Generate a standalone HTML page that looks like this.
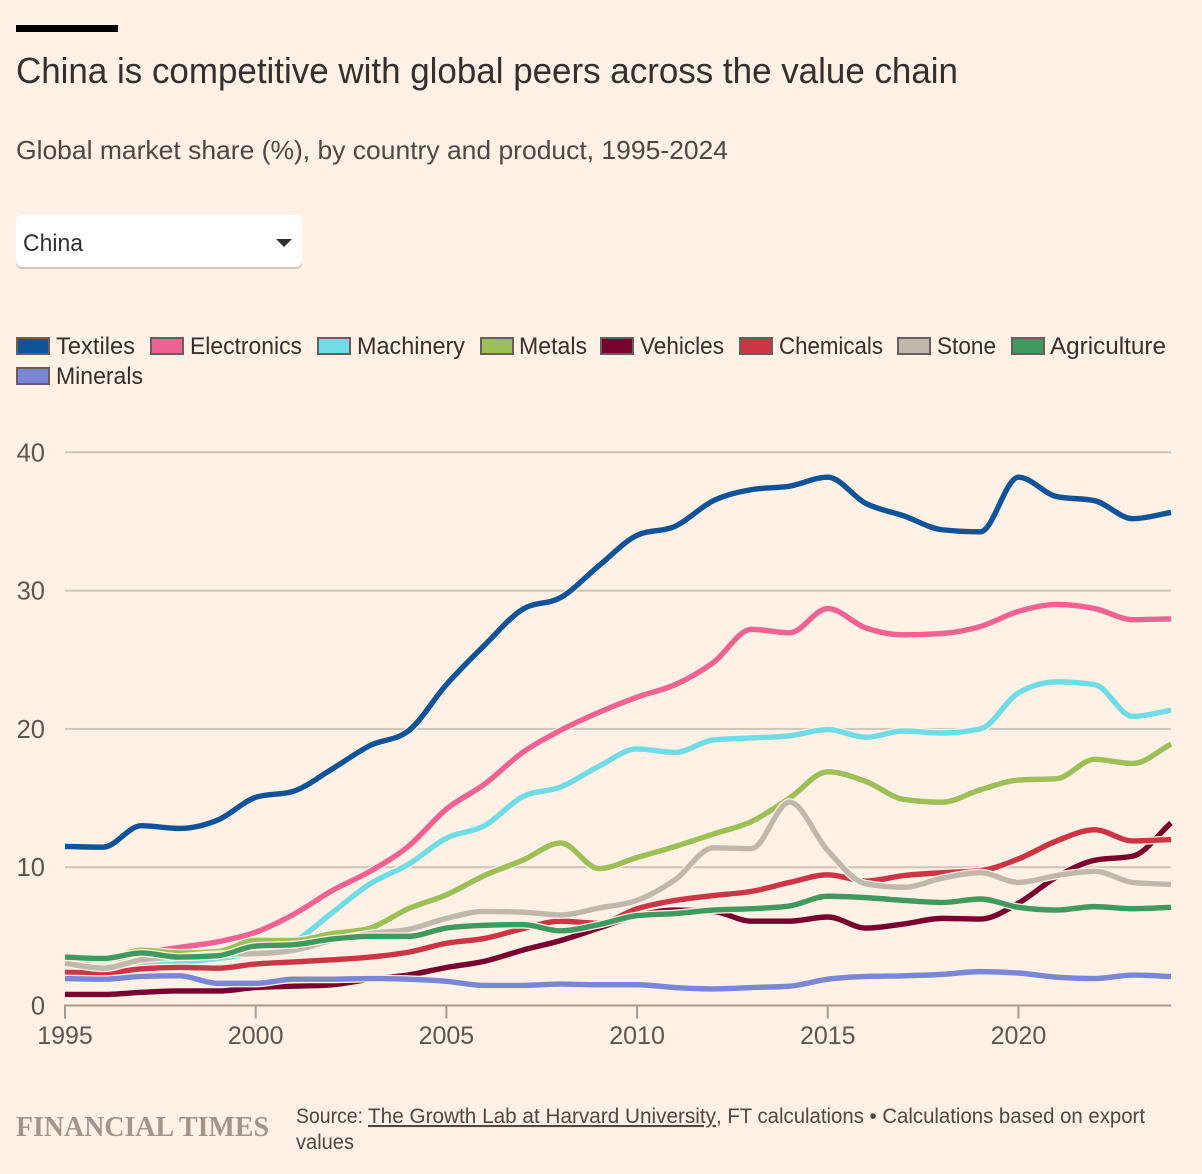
<!DOCTYPE html>
<html lang="en">
<head>
<meta charset="utf-8">
<title>China is competitive with global peers across the value chain</title>
<style>
html,body{margin:0;padding:0;background:#fff1e5;width:1202px;height:1174px;overflow:hidden}
svg{display:block}
text{font-family:"Liberation Sans",sans-serif;fill:#33302e}
</style>
</head>
<body>
<svg id="chart" width="1202" height="1174" viewBox="0 0 1202 1174" xmlns="http://www.w3.org/2000/svg">
  <rect width="1202" height="1174" fill="#fff1e5"/>
  <rect x="16" y="25" width="102" height="7" fill="#000"/>
  <text x="16" y="83" font-size="36" textLength="942" lengthAdjust="spacingAndGlyphs">China is competitive with global peers across the value chain</text>
  <text x="16" y="159" font-size="26" textLength="712" lengthAdjust="spacingAndGlyphs" style="fill:#4d4845">Global market share (%), by country and product, 1995-2024</text>

  <g>
    <rect x="16" y="217" width="286" height="52" rx="6" fill="#cfc6c0"/>
    <rect x="16" y="215" width="286" height="52" rx="6" fill="#ffffff"/>
    <text x="23" y="251" font-size="24" textLength="60" lengthAdjust="spacingAndGlyphs">China</text>
    <path d="M276 239H292L284 247Z" fill="#33302e"/>
  </g>

  <g font-size="24">
    <g>
      <rect x="17" y="338" width="32" height="16" fill="#0f5499" stroke="#66605c" stroke-width="2"/>
      <text x="56" y="354" textLength="79" lengthAdjust="spacingAndGlyphs">Textiles</text>
    </g>
    <g>
      <rect x="151" y="338" width="32" height="16" fill="#ef6292" stroke="#66605c" stroke-width="2"/>
      <text x="190" y="354" textLength="112" lengthAdjust="spacingAndGlyphs">Electronics</text>
    </g>
    <g>
      <rect x="318" y="338" width="32" height="16" fill="#6fdce6" stroke="#66605c" stroke-width="2"/>
      <text x="357" y="354" textLength="108" lengthAdjust="spacingAndGlyphs">Machinery</text>
    </g>
    <g>
      <rect x="481" y="338" width="32" height="16" fill="#9cbf57" stroke="#66605c" stroke-width="2"/>
      <text x="519" y="354" textLength="68" lengthAdjust="spacingAndGlyphs">Metals</text>
    </g>
    <g>
      <rect x="601" y="338" width="32" height="16" fill="#7a0030" stroke="#66605c" stroke-width="2"/>
      <text x="640" y="354" textLength="84" lengthAdjust="spacingAndGlyphs">Vehicles</text>
    </g>
    <g>
      <rect x="740" y="338" width="32" height="16" fill="#cd3444" stroke="#66605c" stroke-width="2"/>
      <text x="779" y="354" textLength="104" lengthAdjust="spacingAndGlyphs">Chemicals</text>
    </g>
    <g>
      <rect x="898" y="338" width="32" height="16" fill="#c0b7ad" stroke="#66605c" stroke-width="2"/>
      <text x="937" y="354" textLength="59" lengthAdjust="spacingAndGlyphs">Stone</text>
    </g>
    <g>
      <rect x="1012" y="338" width="32" height="16" fill="#409a5f" stroke="#66605c" stroke-width="2"/>
      <text x="1050" y="354" textLength="116" lengthAdjust="spacingAndGlyphs">Agriculture</text>
    </g>
    <g>
      <rect x="17" y="368" width="32" height="16" fill="#7a86d6" stroke="#66605c" stroke-width="2"/>
      <text x="56" y="384" textLength="87" lengthAdjust="spacingAndGlyphs">Minerals</text>
    </g>
  </g>

  <g id="grid"></g>
  <g id="yLabels"></g>
  <g id="xAxis"></g>
  <g id="lines"></g>

  <text x="16" y="1136" font-size="28" font-weight="bold" textLength="253" lengthAdjust="spacingAndGlyphs" style="font-family:'Liberation Serif',serif;fill:#a0968e">FINANCIAL TIMES</text>
  <g font-size="21">
    <text x="296" y="1123" textLength="67" lengthAdjust="spacingAndGlyphs" style="fill:#4d4845">Source:</text>
    <text x="368" y="1123" textLength="348" lengthAdjust="spacingAndGlyphs" style="fill:#4d4845;text-decoration:underline">The Growth Lab at Harvard University</text>
    <text x="716" y="1123" textLength="429" lengthAdjust="spacingAndGlyphs" style="fill:#4d4845">, FT calculations • Calculations based on export</text>
    <text x="296" y="1149" textLength="58" lengthAdjust="spacingAndGlyphs" style="fill:#4d4845">values</text>
  </g>
</svg>
<script>
const years = [1995,1996,1997,1998,1999,2000,2001,2002,2003,2004,2005,2006,2007,2008,2009,2010,2011,2012,2013,2014,2015,2016,2017,2018,2019,2020,2021,2022,2023,2024];
const xTicks = [1995,2000,2005,2010,2015,2020];
const yTicks = [0,10,20,30,40];
const seriesNames = ["textiles","electronics","machinery","metals","vehicles","chemicals","stone","agriculture","minerals"];
const seriesColors = ["#0f5499","#ef6292","#6fdce6","#9cbf57","#7a0030","#cd3444","#c0b7ad","#409a5f","#7a86d6"];
const textiles = [11.5,11.45,13.0,12.8,13.4,15.05,15.5,17.1,18.8,19.85,23.2,26.05,28.65,29.5,31.8,34.0,34.65,36.5,37.3,37.55,38.2,36.3,35.4,34.4,34.25,38.2,36.8,36.5,35.2,35.65];
const electronics = [3.0,3.2,3.8,4.2,4.6,5.3,6.6,8.3,9.7,11.5,14.2,16.0,18.3,19.9,21.2,22.3,23.2,24.8,27.2,26.95,28.7,27.3,26.8,26.9,27.4,28.5,29.0,28.7,27.9,27.95];
const machinery = [2.5,2.6,2.9,3.1,3.4,3.8,4.6,6.7,8.8,10.2,12.1,13.0,15.1,15.8,17.3,18.55,18.3,19.2,19.35,19.5,19.95,19.4,19.85,19.7,20.0,22.6,23.4,23.2,20.9,21.35];
const metals = [3.4,3.3,4.0,3.8,3.9,4.7,4.7,5.2,5.6,7.0,8.0,9.4,10.5,11.75,9.9,10.7,11.5,12.4,13.3,15.0,16.9,16.2,14.9,14.7,15.6,16.3,16.4,17.8,17.5,18.9];
const vehicles = [0.8,0.8,0.95,1.05,1.05,1.3,1.4,1.5,1.9,2.2,2.75,3.2,4.0,4.7,5.6,6.5,6.9,6.8,6.1,6.1,6.4,5.6,5.9,6.3,6.25,7.4,9.3,10.5,10.8,13.2];
const chemicals = [2.4,2.35,2.65,2.75,2.7,3.0,3.15,3.3,3.5,3.85,4.5,4.85,5.55,6.1,5.95,7.0,7.6,7.95,8.25,8.9,9.45,9.0,9.4,9.6,9.75,10.6,11.9,12.7,11.9,12.0];
const stone = [3.05,2.7,3.3,3.5,3.7,3.75,4.0,4.7,5.2,5.5,6.3,6.8,6.75,6.55,7.05,7.6,9.1,11.4,11.35,14.7,11.2,8.8,8.55,9.2,9.6,8.9,9.4,9.7,8.9,8.75];
const agriculture = [3.5,3.4,3.8,3.5,3.6,4.3,4.4,4.8,5.0,5.0,5.6,5.8,5.85,5.4,5.85,6.5,6.65,6.9,7.0,7.2,7.9,7.8,7.6,7.45,7.7,7.1,6.9,7.15,7.0,7.1];
const minerals = [1.95,1.9,2.1,2.15,1.6,1.6,1.9,1.9,1.95,1.9,1.75,1.45,1.45,1.55,1.5,1.5,1.3,1.2,1.3,1.4,1.9,2.1,2.15,2.25,2.45,2.35,2.05,1.95,2.2,2.1];
const seriesValues = [textiles,electronics,machinery,metals,vehicles,chemicals,stone,agriculture,minerals];

const NS = "http://www.w3.org/2000/svg";
function xScale(year){ return 65 + (year - 1995) * (1171 - 65) / (2024 - 1995); }
function yScale(v){ return 1005.5 - v * 13.83; }

function make(parent, tag, attrs, content){
  const el = document.createElementNS(NS, tag);
  for (const k in attrs) el.setAttribute(k, attrs[k]);
  if (content !== undefined) el.textContent = content;
  parent.appendChild(el);
  return el;
}

function monotonePath(xs, ys){
  const n = xs.length, d = [], m = [];
  for (let i = 0; i < n - 1; i++) d.push((ys[i+1] - ys[i]) / (xs[i+1] - xs[i]));
  m.push(d[0]);
  for (let i = 1; i < n - 1; i++){
    if (d[i-1] * d[i] <= 0) { m.push(0); continue; }
    const h0 = xs[i] - xs[i-1], h1 = xs[i+1] - xs[i];
    const p = (d[i-1] * h1 + d[i] * h0) / (h0 + h1);
    m.push(Math.sign(d[i]) * Math.min(Math.abs(d[i-1]), Math.abs(d[i]), 0.5 * Math.abs(p)) * 2);
  }
  m.push(d[n-2]);
  let s = "M" + xs[0].toFixed(2) + " " + ys[0].toFixed(2);
  for (let i = 0; i < n - 1; i++){
    const h = (xs[i+1] - xs[i]) / 3;
    s += "C" + (xs[i] + h).toFixed(2) + " " + (ys[i] + m[i] * h).toFixed(2) + " " +
         (xs[i+1] - h).toFixed(2) + " " + (ys[i+1] - m[i+1] * h).toFixed(2) + " " +
         xs[i+1].toFixed(2) + " " + ys[i+1].toFixed(2);
  }
  return s;
}

const gridG = document.getElementById("grid");
const yLabelG = document.getElementById("yLabels");
yTicks.forEach(function(t){
  if (t !== 0) {
    const line = make(gridG, "line", {x1: 65, x2: 1171, y1: yScale(t), y2: yScale(t), stroke: "#cec4ba", "stroke-width": 2});
    
    
  }
  const lab = make(yLabelG, "text", {x: 45, y: yScale(t) + 9, "font-size": 25.5, "text-anchor": "end", style: "fill:#5c5651"}, String(t));
  
  
});

const xAxisG = document.getElementById("xAxis");
const axisLine = make(xAxisG, "line", {x1: 64, x2: 1171, y1: yScale(0), y2: yScale(0), stroke: "#a59c93", "stroke-width": 2});


xTicks.forEach(function(t){
  const tick = make(xAxisG, "line", {x1: xScale(t), x2: xScale(t), y1: yScale(0), y2: yScale(0) + 13, stroke: "#a59c93", "stroke-width": 2});
  
  
  const lab = make(xAxisG, "text", {x: xScale(t), y: 1044, "font-size": 25, "text-anchor": "middle", style: "fill:#5c5651"}, String(t));
  
  
});

const linesG = document.getElementById("lines");
const xPixels = years.map(xScale);
seriesValues.forEach(function(vals, i){
  const d = monotonePath(xPixels, vals.map(yScale));
  const halo = make(linesG, "path", {d: d, fill: "none", stroke: "#fff1e5", "stroke-width": 8, "stroke-linejoin": "round"});
  
  
  const path = make(linesG, "path", {d: d, fill: "none", stroke: seriesColors[i], "stroke-width": 5.4, "stroke-linejoin": "round"});
  
  
});
</script>
</body>
</html>
